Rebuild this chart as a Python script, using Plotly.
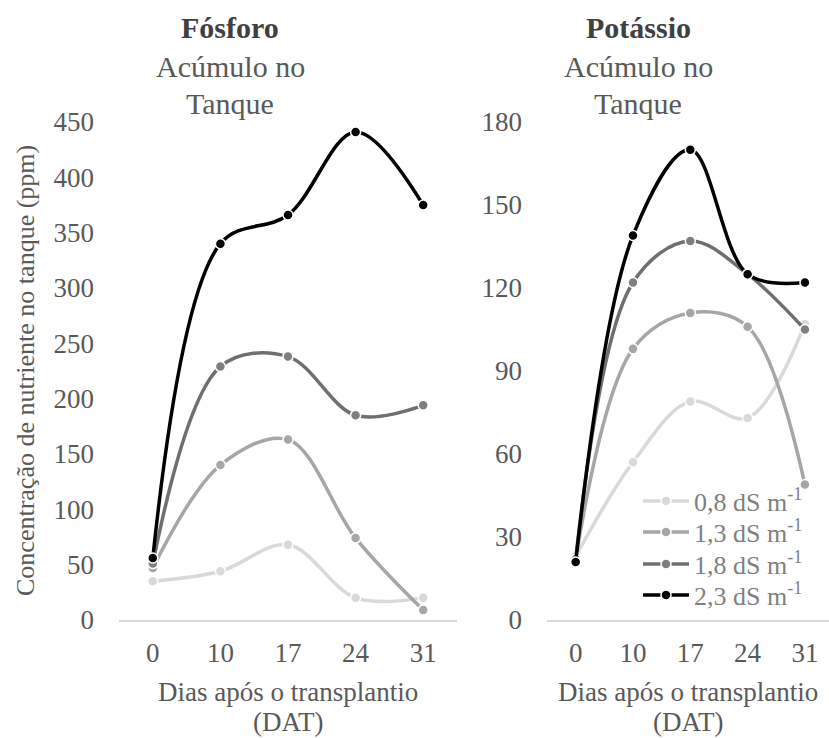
import plotly.graph_objects as go

days = ["0", "10", "17", "24", "31"]
series_names = ["0,8 dS m<sup>-1</sup>", "1,3 dS m<sup>-1</sup>", "1,8 dS m<sup>-1</sup>", "2,3 dS m<sup>-1</sup>"]

# Fósforo (ppm)
p_08 = [35, 44, 68, 20, 20]
p_13 = [47, 140, 163, 74, 9]
p_18 = [51, 229, 238, 185, 194]
p_23 = [56, 340, 366, 441, 375]

# Potássio (ppm)
k_08 = [23, 57, 79, 73, 107]
k_13 = [22, 98, 111, 106, 49]
k_18 = [22, 122, 137, 125, 105]
k_23 = [21, 139, 170, 125, 122]

line_colors = ["#d9d9d9", "#a6a6a6", "#6f6f6f", "#000000"]
marker_colors = ["#d9d9d9", "#a6a6a6", "#7f7f7f", "#000000"]
legend_ids = ["legend", "legend2", "legend3", "legend4"]
legend_rows = [501, 532, 564, 595]

FONT = "'Liberation Serif', 'Times New Roman', 'DejaVu Serif', serif"
W, H = 829, 738

fig = go.Figure()

def add_series(vals_list, xa, ya, showlegend):
    for name, vals, lc, mc, lg in zip(series_names, vals_list, line_colors, marker_colors, legend_ids):
        fig.add_trace(go.Scatter(
            x=days, y=vals, name=name, xaxis=xa, yaxis=ya,
            mode="lines+markers", showlegend=showlegend, legend=lg,
            line=dict(color=lc, width=3.5, shape="spline", smoothing=1.0),
            marker=dict(color=mc, size=10, line=dict(color="white", width=1.5)),
        ))

add_series([p_08, p_13, p_18, p_23], "x", "y", False)
add_series([k_08, k_13, k_18, k_23], "x2", "y2", True)

ybot = 1 - 620 / H
ytop = 1 - 122 / H
tickfont = dict(family=FONT, size=27, color="#595959")

common_x = dict(type="category", showline=True, linecolor="#d9d9d9", linewidth=1.5,
                showgrid=False, ticks="", tickfont=tickfont, ticklabelstandoff=8,
                automargin=False)
common_y = dict(domain=[ybot, ytop], showgrid=False, zeroline=False, showline=False,
                ticks="", tickfont=tickfont, ticklabelstandoff=24, automargin=False)

layout_legends = {}
for lg, row in zip(legend_ids, legend_rows):
    layout_legends[lg] = dict(x=638 / W, y=1 - row / H, xanchor="left", yanchor="middle",
                              bgcolor="rgba(0,0,0,0)", itemwidth=46,
                              font=dict(family=FONT, size=26, color="#7f7f7f"))

fig.update_layout(
    width=W, height=H,
    margin=dict(l=0, r=0, t=0, b=0, pad=0, autoexpand=False),
    paper_bgcolor="white", plot_bgcolor="white",
    font=dict(family=FONT, color="#595959"),
    xaxis=dict(domain=[119 / W, 457 / W], range=[-0.5, 4.5], anchor="y", **common_x),
    yaxis=dict(range=[0, 450], dtick=50, anchor="x", **common_y),
    xaxis2=dict(domain=[547 / W, 1.0], range=[-0.5, 4.42], anchor="y2", **common_x),
    yaxis2=dict(range=[0, 180], dtick=30, anchor="x2", **common_y),
    **layout_legends,
)

def ann(x, y, text, size, color, angle=0):
    fig.add_annotation(x=x / W, y=1 - y / H, xref="paper", yref="paper",
                       xanchor="center", yanchor="middle", showarrow=False,
                       text=text, textangle=angle,
                       font=dict(family=FONT, size=size, color=color))

# Panel titles
for cx, name in [(230, "<b>Fósforo</b>"), (638, "<b>Potássio</b>")]:
    ann(cx, 28, name, 30, "#404040")
    ann(cx, 66, "Acúmulo no", 30, "#595959")
    ann(cx, 104, "Tanque", 30, "#595959")

# Axis titles
for cx in [288, 688]:
    ann(cx, 692, "Dias após o transplantio", 27, "#595959")
    ann(cx, 722, "(DAT)", 27, "#595959")
ann(25, 371, "Concentração de nutriente no tanque (ppm)", 26, "#595959", angle=-90)

fig.write_html("out.html")
